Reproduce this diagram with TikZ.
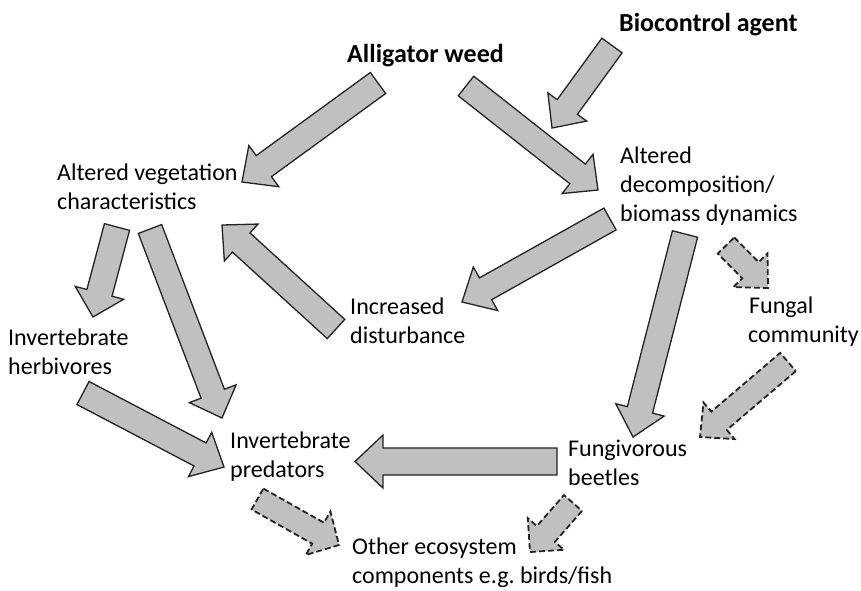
\documentclass[tikz,border=0pt]{standalone}
\usepackage{fontspec}
\setmainfont{Carlito}
\usetikzlibrary{calc}
\frenchspacing
\definecolor{arrfill}{RGB}{192,192,192}
\definecolor{arredge}{RGB}{35,35,35}
\tikzset{
  blockarr/.style={fill=arrfill, draw=arredge, line width=1.3pt, line join=miter},
  dasharr/.style={blockarr, line width=1.8pt, dash pattern=on 6pt off 3pt},
  lbl/.style={anchor=west, inner sep=0pt, align=left, font=\fontsize{24}{29}\selectfont},
  ttl/.style={lbl, font=\fontsize{26}{30}\selectfont\bfseries},
}
% #1 style, #2 tail, #3 tip, #4 half shaft width, #5 half head width, #6 head length
\newcommand\blockarrow[6][]{%
  \path ($(#3)!#6!(#2)$) coordinate (bh);
  \draw[blockarr,#1] ($(#2)!#4!90:(#3)$) -- ($(bh)!#4!90:(#3)$) -- ($(bh)!#5!90:(#3)$)
    -- (#3) -- ($(bh)!#5!-90:(#3)$) -- ($(bh)!#4!-90:(#3)$) -- ($(#2)!#4!-90:(#3)$) -- cycle;
}
\begin{document}
\begin{tikzpicture}[x=1pt,y=-1pt]
\fill[white] (0,0) rectangle (861,590);
\useasboundingbox (0,0) rectangle (861,590);

% labels
\node[ttl] (bio) at (619,25) {Biocontrol agent};
\node[ttl] (alli) at (347,56) {Alligator weed};
\node[lbl] (veg) at (57,187) {Altered vegetation\\characteristics};
\node[lbl] (dec) at (620,186) {Altered\\decomposition/\\biomass dynamics};
\node[lbl] (dist) at (350,321) {Increased\\disturbance};
\node[lbl] (fung) at (748,322) {\hspace{1pt}Fungal\\community};
\node[lbl] (herb) at (8,352) {Invertebrate\\herbivores};
\node[lbl] (pred) at (230,457) {Invertebrate\\predators};
\node[lbl] (beet) at (568,463) {Fungivorous\\beetles};
\node[lbl] (oth) at (352,563) {Other ecosystem\\components e.g. birds/fish};

% arrow end points
\coordinate (a1t) at (612,45.5);  \coordinate (a1h) at (552,128);
\coordinate (a2t) at (378,83);    \coordinate (a2h) at (242,182);
\coordinate (a3t) at (466,86);    \coordinate (a3h) at (598,190);
\coordinate (a4t) at (610,219);   \coordinate (a4h) at (462,302);
\coordinate (a5t) at (336,329);   \coordinate (a5h) at (222,225);
\coordinate (a6t) at (117,227);   \coordinate (a6h) at (93,317);
\coordinate (a7t) at (150,229);   \coordinate (a7h) at (222,418);
\coordinate (a8t) at (83,393);    \coordinate (a8h) at (224,467);
\coordinate (a9t) at (685,234);   \coordinate (a9h) at (633,437);
\coordinate (a10t) at (557,461.5);\coordinate (a10h) at (355,461.5);
\coordinate (a11t) at (726,245.5);\coordinate (a11h) at (768,288);
\coordinate (a12t) at (788,362);  \coordinate (a12h) at (700,437);
\coordinate (a13t) at (257.5,499);\coordinate (a13h) at (339,545);
\coordinate (a14t) at (573,503);  \coordinate (a14h) at (530,552);

% solid block arrows
\blockarrow{a1t}{a1h}{12.5pt}{24pt}{26pt}
\blockarrow{a2t}{a2h}{13pt}{25.5pt}{27pt}
\blockarrow{a3t}{a3h}{12.5pt}{25pt}{26pt}
\blockarrow{a4t}{a4h}{12.5pt}{25pt}{27pt}
\blockarrow{a5t}{a5h}{13pt}{25pt}{26pt}
\blockarrow{a6t}{a6h}{13pt}{25pt}{25pt}
\blockarrow{a7t}{a7h}{12.5pt}{25pt}{26pt}
\blockarrow{a8t}{a8h}{13pt}{25pt}{27pt}
\blockarrow{a9t}{a9h}{13pt}{25pt}{28pt}
\blockarrow{a10t}{a10h}{13.5pt}{26.5pt}{28pt}

% dashed block arrows
\blockarrow[dasharr]{a11t}{a11h}{11.5pt}{24pt}{25pt}
\blockarrow[dasharr]{a12t}{a12h}{12pt}{24pt}{25pt}
\blockarrow[dasharr]{a13t}{a13h}{12pt}{25pt}{24pt}
\blockarrow[dasharr]{a14t}{a14h}{12pt}{24pt}{24pt}
\end{tikzpicture}
\end{document}
